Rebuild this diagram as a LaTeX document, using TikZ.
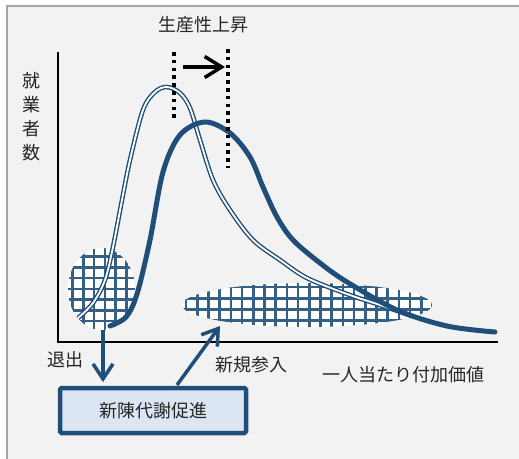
\documentclass[tikz,border=0pt]{standalone}
\usepackage{fontspec}
\setmainfont{Noto Sans CJK JP}
\usetikzlibrary{arrows.meta,shapes.geometric,calc}
\definecolor{curveblue}{HTML}{1F4E79}
\definecolor{bggray}{HTML}{F2F2F2}
\definecolor{framegray}{HTML}{A6A6A6}
\definecolor{boxfill}{HTML}{DCE6F2}
\definecolor{txt}{HTML}{262626}
\begin{document}
\begin{tikzpicture}[x=1pt,y=-1pt,
  lbl/.style={font=\fontsize{18}{24}\selectfont, text=txt, inner sep=0pt, align=center},
  hatcharea/.style={ellipse, fill=white, draw=none, inner sep=0pt},
  gridline/.style={draw=curveblue!90, line width=2.6pt},
  bluearrow/.style={draw=curveblue, line width=3.5pt,
     -{Straight Barb[length=15pt,width=20pt,line width=3.5pt]}},
  blackarrow/.style={draw=black, line width=3.5pt,
     -{Straight Barb[length=17pt,width=21pt,line width=3.5pt]}},
  dotline/.style={draw=black, line width=3.4pt, dash pattern=on 3.6pt off 4.2pt},
  oldcurve/.style={draw=curveblue, line width=1.4pt, double=white, double distance=1.8pt},
  newcurve/.style={draw=curveblue, line width=5pt, line cap=round},
  axisline/.style={draw=black, line width=2pt},
  actionbox/.style={draw=curveblue, line width=4.5pt, fill=boxfill, rounded corners=1.5pt,
     minimum width=186pt, minimum height=45pt, font=\fontsize{18}{20}\selectfont, text=txt}
]
\useasboundingbox (0,0) rectangle (519,458);
% background panel
\begin{scope}
\clip (0,0) rectangle (519,458);
\draw[framegray, fill=bggray, line width=2.5pt] (7,6) rectangle (560,490);
\end{scope}

% axes
\coordinate (origin) at (58,342);
\coordinate (ytop) at (58,52);
\coordinate (xend) at (498,342);
\draw[axisline] (ytop) -- (origin) -- (xend);

% hatched areas
\node[hatcharea, minimum width=67pt, minimum height=82pt] (exitarea) at (101.5,289) {};
\node[hatcharea, minimum width=250pt, minimum height=44pt] (entryarea) at (307,305) {};
\begin{scope}
\clip (101.5,289) ellipse [x radius=33.5, y radius=41];
\foreach \gx in {62,72.7,...,140} \draw[gridline] (\gx,240) -- (\gx,340);
\foreach \gy in {246,256.7,...,340} \draw[gridline] (60,\gy) -- (140,\gy);
\end{scope}
\begin{scope}
\clip (307,305) ellipse [x radius=125, y radius=22];
\foreach \gx in {186,197.2,...,440} \draw[gridline] (\gx,280) -- (\gx,330);
\foreach \gy in {287,298.2,...,330} \draw[gridline] (180,\gy) -- (440,\gy);
\end{scope}

% old distribution (double line)
\draw[oldcurve] plot[smooth, tension=0.55] coordinates {
  (78,318) (93,303) (105,280) (113,247) (122,200) (130,160) (143,110) (155,92) (167,87) (180,93) (190,108)
  (200,140) (213,180) (230,210) (253,240) (280,260) (307,278) (347,294) (380,305) (412,316)};

% new distribution (thick line)
\draw[newcurve] plot[smooth, tension=0.55] coordinates {
  (110,326) (126,317) (137,294) (150,240) (163,172) (180,135) (205,122) (230,133)
  (250,157) (263,187) (277,217) (293,240) (320,263) (347,282) (397,310) (447,326) (495,332)};

% productivity shift markers
\coordinate (oldtop) at (174,52);
\coordinate (oldbot) at (174,120);
\coordinate (newtop) at (228,49);
\coordinate (newbot) at (228,168);
\draw[dotline] (oldtop) -- (oldbot);
\draw[dotline] (newtop) -- (newbot);
\coordinate (shiftstart) at (183,67);
\coordinate (shiftend) at (225,67);
\draw[blackarrow] (shiftstart) -- (shiftend);

% texts
\node[lbl] (title) at (203,25) {生産性上昇};
\node[lbl] (ylabel) at (31,117) {就\\業\\者\\数};
\node[lbl] (exitlbl) at (65,360) {退出};
\node[lbl] (entrylbl) at (251,365) {新規参入};
\node[lbl] (xlabel) at (403.5,375) {一人当たり付加価値};

% box
\node[actionbox] (box) at (153,410.5) {新陳代謝促進};

% arrows
\coordinate (exitfoot) at (103,330);
\coordinate (exittip) at (103,382);
\draw[bluearrow] (exitfoot) -- (exittip);
\coordinate (entrybase) at (177,385);
\coordinate (entrytip) at (220,326);
\draw[bluearrow] (entrybase) -- (entrytip);
\end{tikzpicture}
\end{document}
